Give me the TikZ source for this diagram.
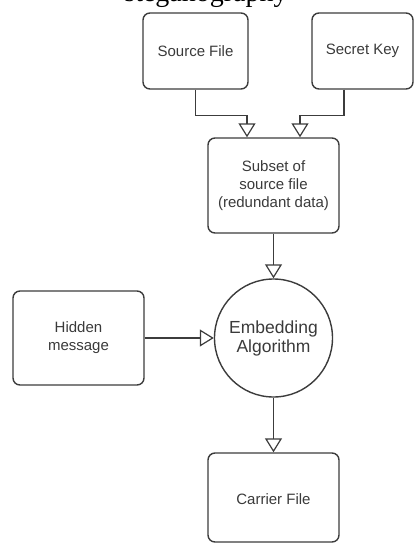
\documentclass[tikz,border=0pt]{standalone}
\usepackage{fontspec}
\setmainfont{Liberation Serif}
\setsansfont{Liberation Sans}
\usetikzlibrary{arrows.meta}
\definecolor{ln}{HTML}{3C3C3C}
\definecolor{tx}{HTML}{3A3A3A}
\begin{document}
\begin{tikzpicture}[x=1pt,y=-1pt,
  box/.style={draw=ln, line width=1.4pt, rounded corners=7pt, align=center,
    font=\sffamily\fontsize{15}{18}\selectfont, text=tx, inner sep=0pt},
  circ/.style={draw=ln, line width=1.4pt, circle, align=center,
    font=\sffamily\fontsize{17.5}{19}\selectfont, text=tx, inner sep=0pt, minimum size=118pt},
  arr/.style={draw=ln, line width=1.2pt, -{Triangle[open, length=14pt, width=17pt, line width=1.2pt]}}
]
\useasboundingbox (0,0) rectangle (414,543);
\node[font=\fontsize{28}{30}\selectfont, anchor=base] (title) at (206,1.5) {steganography};
\node[box, minimum width=105pt, minimum height=76pt] (src) at (195.5,51) {Source File};
\node[box, minimum width=101pt, minimum height=76pt] (key) at (362.5,51) {Secret Key};
\node[box, minimum width=131pt, minimum height=95pt] (sub) at (273.5,185.5) {Subset of\\source file\\(redundant data)};
\node[circ] (emb) at (273.5,338) {Embedding\\Algorithm};
\node[box, minimum width=131pt, minimum height=94pt] (hid) at (78.5,338) {Hidden\\message};
\node[box, minimum width=131pt, minimum height=89pt, text depth=0pt] (car) at (273.5,497.5) {\raisebox{-3pt}{Carrier File}};
\draw[arr] (src.south) -- ++(0,26) -| ([xshift=-26.5pt]sub.north);
\draw[arr] ([xshift=-18.5pt]key.south) -- ++(0,26) -| ([xshift=26.5pt]sub.north);
\draw[arr] (sub.south) -- (emb.north);
\draw[arr] (hid.east) -- (emb.west);
\draw[arr] (emb.south) -- (car.north);
\end{tikzpicture}
\end{document}
